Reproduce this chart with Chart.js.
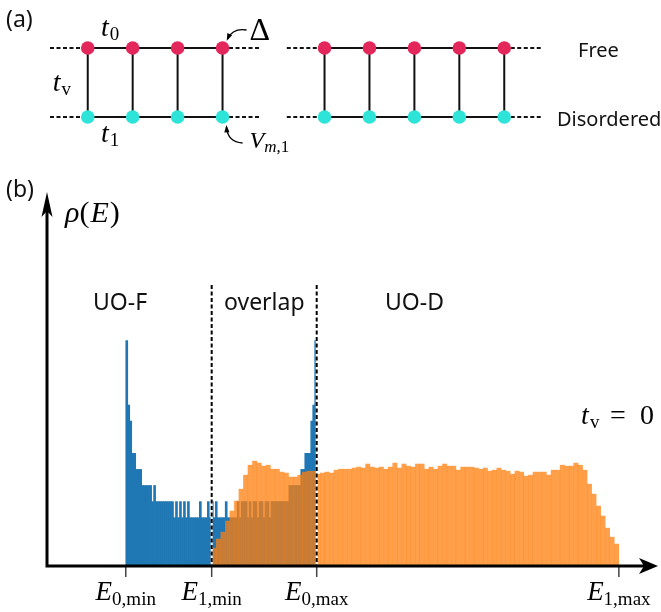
<!DOCTYPE html>
<html>
<head>
<meta charset="utf-8">
<script src="https://cdn.jsdelivr.net/npm/chart.js@4.4.1/dist/chart.umd.min.js"></script>
<style>
  html, body { margin: 0; padding: 0; background: #fff; }
  #wrap { position: relative; width: 661px; height: 612px; }
  canvas { position: absolute; left: 0; top: 0; }
</style>
</head>
<body>
<div id="wrap">
  <canvas id="ladder" width="661" height="612"></canvas>
  <canvas id="dos" width="661" height="612"></canvas>
</div>
<script>
// ---- panel (a): two-leg ladder, sites in units of the lattice spacing
const leftSites = [0, 1, 2, 3];
const rightSites = [5.27, 6.27, 7.27, 8.27, 9.27];
const freeRow = 1;
const disorderedRow = 0;
const leadLength = 0.84;

// ---- panel (b): density of states histograms
const freeRange = [-2, 2];          // E0,min .. E0,max
const disorderedRange = [-0.2, 8.33]; // E1,min .. E1,max
const freeCounts = [
  14, 10, 9, 7, 7, 6, 6, 6, 5, 5, 5, 5, 5, 4, 5, 4,
  4, 4, 4, 4, 4, 4, 4, 4, 3, 4, 3, 4, 3, 4, 3, 4,
  3, 3, 3, 3, 3, 4, 3, 3, 3, 4, 3, 4, 3, 4, 3, 3,
  3, 3, 4, 3, 3, 3, 3, 3, 4, 3, 4, 4, 4, 3, 4, 3,
  4, 4, 3, 4, 4, 3, 4, 4, 3, 4, 4, 4, 4, 4, 4, 4,
  4, 4, 5, 5, 5, 5, 5, 5, 6, 6, 7, 7, 7, 9, 10, 14
];
const disorderedCounts = [
  1.12, 1.68, 2.11, 2.80, 3.42, 4.04, 4.78, 5.65, 6.27, 6.52,
  6.40, 6.21, 6.27, 6.02, 6.02, 5.84, 5.78, 5.53, 5.53, 5.65,
  5.84, 5.90, 5.90, 5.71, 5.78, 5.84, 5.78, 5.96, 6.02, 6.02,
  6.02, 6.09, 6.15, 6.09, 6.34, 6.15, 6.09, 6.15, 6.02, 6.15,
  6.40, 6.09, 6.34, 6.21, 6.15, 6.34, 6.34, 6.02, 6.15, 6.02,
  6.21, 6.34, 6.21, 6.21, 5.96, 6.15, 6.15, 6.15, 6.09, 6.02,
  6.09, 5.90, 5.96, 6.09, 5.96, 5.90, 5.71, 5.90, 5.84, 5.59,
  5.65, 5.84, 5.84, 5.84, 5.65, 5.96, 5.96, 6.27, 6.21, 6.21,
  6.40, 6.27, 5.96, 5.09, 4.47, 3.73, 3.11, 2.36, 1.80, 1.37
];
const tickValues = [-2, -0.2, 2, 8.33];
const tickSubs = ['0,min', '1,min', '0,max', '1,max'];
const dividers = [-0.2, 2];
const xRange = [-3.65, 9.15];
const yMax = 23.23;

const SERIF = '"Liberation Serif", "DejaVu Serif", serif';
const SANS = '"Noto Sans", "Open Sans", sans-serif';

function binCenters(range, n) {
  const w = (range[1] - range[0]) / n;
  return Array.from({ length: n }, (_, i) => range[0] + (i + 0.5) * w);
}

// draws a row of [text, font, dy, extra gap] pieces starting at x
function drawMath(ctx, x, y, parts, align) {
  let total = 0;
  const widths = parts.map(p => { ctx.font = p[1]; const w = ctx.measureText(p[0]).width + (p[3] || 0); total += w; return w; });
  let cx = align === 'center' ? x - total / 2 : x;
  ctx.textAlign = 'left';
  ctx.textBaseline = 'alphabetic';
  parts.forEach((p, i) => {
    ctx.font = p[1];
    ctx.fillText(p[0], cx, y + (p[2] || 0));
    cx += widths[i];
  });
}

function curvedArrow(ctx, sx, sy, cx, cy, ex, ey) {
  ctx.save();
  ctx.strokeStyle = '#000';
  ctx.fillStyle = '#000';
  ctx.lineWidth = 1.3;
  ctx.beginPath();
  ctx.moveTo(sx, sy);
  ctx.quadraticCurveTo(cx, cy, ex, ey);
  ctx.stroke();
  const a = Math.atan2(ey - cy, ex - cx);
  ctx.beginPath();
  ctx.moveTo(ex + Math.cos(a) * 2, ey + Math.sin(a) * 2);
  ctx.lineTo(ex - Math.cos(a - 0.45) * 6, ey - Math.sin(a - 0.45) * 6);
  ctx.lineTo(ex - Math.cos(a + 0.45) * 6, ey - Math.sin(a + 0.45) * 6);
  ctx.closePath();
  ctx.fill();
  ctx.restore();
}

// ---------- panel (a)
function rowLine(sites, row) {
  return [{ x: sites[0], y: row }, { x: sites[sites.length - 1], y: row }, { x: sites[0], y: null }];
}
function leads(sites, row) {
  const a = sites[0], b = sites[sites.length - 1];
  return [{ x: a - leadLength, y: row }, { x: a, y: row }, { x: a, y: null },
          { x: b, y: row }, { x: b + leadLength, y: row }, { x: b, y: null }];
}
function rungs(sites) {
  const pts = [];
  sites.forEach(s => { pts.push({ x: s, y: disorderedRow }, { x: s, y: freeRow }, { x: s, y: null }); });
  return pts;
}

const lineStyle = { showLine: true, pointRadius: 0, borderColor: '#111', borderWidth: 2.2, clip: false, order: 2 };

const ladderLabels = {
  id: 'ladderLabels',
  afterDraw(chart) {
    const ctx = chart.ctx;
    const xs = chart.scales.x, ys = chart.scales.y;
    const px = v => xs.getPixelForValue(v);
    const pyFree = ys.getPixelForValue(freeRow);
    const pyDis = ys.getPixelForValue(disorderedRow);
    ctx.save();
    ctx.fillStyle = '#111';
    ctx.font = '23px ' + SANS;
    ctx.fillText('(a)', 6, 27);

    const mid = px((leftSites[0] + leftSites[1]) / 2);
    ctx.fillStyle = '#000';
    drawMath(ctx, mid, pyFree - 12, [['t', 'italic 28px ' + SERIF, 0, 1], ['0', '19px ' + SERIF, 4]], 'center');
    drawMath(ctx, mid, pyDis + 25, [['t', 'italic 28px ' + SERIF, 0, 1], ['1', '19px ' + SERIF, 4]], 'center');
    drawMath(ctx, px(leftSites[0]) - 35, (pyFree + pyDis) / 2 + 8, [['t', 'italic 28px ' + SERIF, 0, 1], ['v', '19px ' + SERIF, 4]]);

    const nx = px(leftSites[leftSites.length - 1]);
    curvedArrow(ctx, nx + 24, pyFree - 18, nx + 10, pyFree - 20, nx + 5, pyFree - 9);
    ctx.font = '32px ' + SERIF;
    ctx.fillText('\u0394', nx + 27, pyFree - 8);
    curvedArrow(ctx, nx + 20, pyDis + 26, nx + 5, pyDis + 25, nx + 4, pyDis + 10);
    drawMath(ctx, nx + 27, pyDis + 31, [['V', 'italic 24px ' + SERIF, 0, 0], ['m', 'italic 17px ' + SERIF, 4], [',1', '17px ' + SERIF, 4]]);

    ctx.fillStyle = '#111';
    ctx.font = '20px ' + SANS;
    ctx.fillText('Free', 578, pyFree + 9);
    ctx.fillText('Disordered', 557, pyDis + 9);
    ctx.restore();
  }
};

new Chart(document.getElementById('ladder'), {
  type: 'scatter',
  data: {
    datasets: [
      Object.assign({ data: rowLine(leftSites, freeRow).concat(rowLine(leftSites, disorderedRow),
        rowLine(rightSites, freeRow), rowLine(rightSites, disorderedRow)) }, lineStyle),
      Object.assign({ data: rungs(leftSites).concat(rungs(rightSites)) }, lineStyle, { borderWidth: 2 }),
      Object.assign({ data: leads(leftSites, freeRow).concat(leads(leftSites, disorderedRow),
        leads(rightSites, freeRow), leads(rightSites, disorderedRow)) }, lineStyle, { borderDash: [4, 2.5], borderWidth: 2 }),
      { data: leftSites.concat(rightSites).map(s => ({ x: s, y: freeRow })), pointRadius: 6.8,
        pointBackgroundColor: '#e4275b', pointBorderWidth: 0, clip: false, order: 0 },
      { data: leftSites.concat(rightSites).map(s => ({ x: s, y: disorderedRow })), pointRadius: 6.8,
        pointBackgroundColor: '#2ee3d8', pointBorderWidth: 0, clip: false, order: 0 }
    ]
  },
  options: {
    responsive: false,
    animation: false,
    events: [],
    layout: { padding: { left: 50, right: 119, top: 48, bottom: 495 } },
    plugins: { legend: { display: false }, tooltip: { enabled: false } },
    scales: {
      x: { type: 'linear', min: leftSites[0] - leadLength, max: rightSites[rightSites.length - 1] + leadLength, display: false },
      y: { type: 'linear', min: 0, max: 1, display: false }
    }
  },
  plugins: [ladderLabels]
});

// ---------- panel (b)
const freeX = binCenters(freeRange, freeCounts.length);
const disorderedX = binCenters(disorderedRange, disorderedCounts.length);

const dosAxes = {
  id: 'dosAxes',
  afterDatasetsDraw(chart) {
    const ctx = chart.ctx;
    const xs = chart.scales.x, ys = chart.scales.y;
    const area = chart.chartArea;
    const x0 = area.left, y0 = ys.getPixelForValue(0);
    ctx.save();

    // divider lines between the spectral regions
    dividers.forEach(v => {
      const x = xs.getPixelForValue(v);
      ctx.lineWidth = 2;
      ctx.strokeStyle = '#fff';
      ctx.setLineDash([]);
      ctx.beginPath(); ctx.moveTo(x, 285); ctx.lineTo(x, y0); ctx.stroke();
      ctx.strokeStyle = '#000';
      ctx.setLineDash([4, 2.5]);
      ctx.beginPath(); ctx.moveTo(x, 285); ctx.lineTo(x, y0); ctx.stroke();
    });
    ctx.setLineDash([]);

    // tick marks
    ctx.strokeStyle = '#444';
    ctx.lineWidth = 1.5;
    tickValues.forEach(v => {
      const x = xs.getPixelForValue(v);
      ctx.beginPath(); ctx.moveTo(x, y0); ctx.lineTo(x, y0 + 11); ctx.stroke();
    });

    // axes with arrow heads
    ctx.strokeStyle = '#000';
    ctx.fillStyle = '#000';
    ctx.lineWidth = 3;
    ctx.beginPath();
    ctx.moveTo(x0, y0); ctx.lineTo(area.right - 10, y0);
    ctx.moveTo(x0, y0 + 1.5); ctx.lineTo(x0, area.top + 14);
    ctx.stroke();
    ctx.beginPath();
    ctx.moveTo(area.right, y0);
    ctx.lineTo(area.right - 19, y0 - 8);
    ctx.lineTo(area.right - 14, y0);
    ctx.lineTo(area.right - 19, y0 + 8);
    ctx.closePath(); ctx.fill();
    ctx.beginPath();
    ctx.moveTo(x0, area.top);
    ctx.lineTo(x0 - 5.5, area.top + 25);
    ctx.lineTo(x0, area.top + 19);
    ctx.lineTo(x0 + 5.5, area.top + 25);
    ctx.closePath(); ctx.fill();

    // tick labels
    ctx.fillStyle = '#000';
    tickValues.forEach((v, i) => {
      drawMath(ctx, xs.getPixelForValue(v), 600,
        [['E', 'italic 27px ' + SERIF, 0, 0], [tickSubs[i], '19px ' + SERIF, 5]], 'center');
    });

    // labels
    drawMath(ctx, 65, 222, [['\u03C1', 'italic 30px ' + SERIF], ['(', '30px ' + SERIF, 0, 1], ['E', 'italic 30px ' + SERIF, 0, 1], [')', '30px ' + SERIF]]);
    ctx.font = 'italic 28px ' + SERIF;
    ctx.fillText('t', 581, 424);
    ctx.font = '19px ' + SERIF;
    ctx.fillText('v', 590, 428);
    ctx.font = '28px ' + SERIF;
    ctx.fillText('=', 610, 424);
    ctx.fillText('0', 640, 424);

    ctx.fillStyle = '#111';
    ctx.font = '23px ' + SANS;
    ctx.fillText('(b)', 6, 197);
    ctx.fillText('UO-F', 93, 310);
    ctx.fillText('overlap', 224, 310);
    ctx.fillText('UO-D', 385, 310);
    ctx.restore();
  }
};

new Chart(document.getElementById('dos'), {
  type: 'bar',
  data: {
    datasets: [
      {
        label: 'disordered',
        data: disorderedX.map((x, i) => ({ x: x, y: disorderedCounts[i] })),
        xAxisID: 'x2',
        backgroundColor: 'rgba(255, 127, 14, 0.75)',
        borderWidth: 0,
        grouped: false,
        barPercentage: 1,
        categoryPercentage: 1,
        inflateAmount: 0.2
      },
      {
        label: 'free',
        data: freeX.map((x, i) => ({ x: x, y: freeCounts[i] })),
        xAxisID: 'x',
        backgroundColor: '#1f77b4',
        borderWidth: 0,
        grouped: false,
        barPercentage: 1,
        categoryPercentage: 1
      }
    ]
  },
  options: {
    responsive: false,
    animation: false,
    events: [],
    layout: { padding: { left: 47, right: 3, top: 192, bottom: 46 } },
    plugins: { legend: { display: false }, tooltip: { enabled: false } },
    scales: {
      x: { type: 'linear', min: xRange[0], max: xRange[1], offset: false, display: false },
      x2: { type: 'linear', axis: 'x', min: xRange[0], max: xRange[1], offset: false, display: false },
      y: { type: 'linear', min: 0, max: yMax, display: false }
    }
  },
  plugins: [dosAxes]
});
</script>
</body>
</html>
